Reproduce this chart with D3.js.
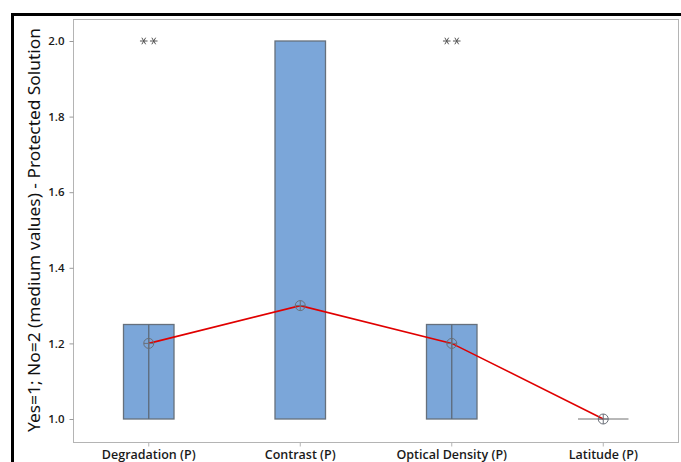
<!DOCTYPE html>
<html>
<head>
<meta charset="utf-8">
<script src="https://cdn.jsdelivr.net/npm/d3@7"></script>
<style>
  html, body { margin: 0; padding: 0; background: #fff; }
  svg { display: block; }
</style>
</head>
<body>
<script>
// Boxplot of yes/no responses per property, with means joined by a line
const categories = ["Degradation (P)", "Contrast (P)", "Optical Density (P)", "Latitude (P)"];
const q1Values = [1.0, 1.0, 1.0, 1.0];
const q3Values = [1.25, 2.0, 1.25, 1.0];
const meanValues = [1.2, 1.3, 1.2, 1.0];
const outlierValues = [[2.0, 2.0], [], [2.0, 2.0], []];
const hasMidLine = [true, false, true, false];
const yTickValues = [1.0, 1.2, 1.4, 1.6, 1.8, 2.0];
const yTitle = "Yes=1; No=2 (medium values) - Protected Solution";

const W = 681, H = 462;
const plot = { left: 73, right: 679, top: 19, bottom: 442 };

const svg = d3.select("body").append("svg")
  .attr("width", W).attr("height", H);

svg.append("rect").attr("width", W).attr("height", H).attr("fill", "#fff");

const x = d3.scaleBand().domain(categories).range([plot.left, plot.right]).padding(0);
const y = d3.scaleLinear().domain([1, 2]).range([419, 41]);

// outer black frame (top and left edges)
svg.append("path")
  .attr("d", `M12.5,${H} L12.5,14.5 L${W},14.5`)
  .attr("fill", "none").attr("stroke", "#000").attr("stroke-width", 3);

// plot area frame
svg.append("rect")
  .attr("x", plot.left + 0.5).attr("y", plot.top + 0.5)
  .attr("width", plot.right - plot.left - 1).attr("height", plot.bottom - plot.top)
  .attr("fill", "none").attr("stroke", "#b4b4b4").attr("stroke-width", 1);

// y axis
const yAxis = d3.axisLeft(y).tickValues(yTickValues).tickFormat(d3.format(".1f")).tickSize(4).tickPadding(5);
const gy = svg.append("g").attr("transform", `translate(${plot.left + 0.5},0)`).call(yAxis);
gy.select(".domain").remove();
gy.selectAll(".tick line").attr("stroke", "#9a9a9a");
gy.selectAll(".tick text")
  .attr("font-family", "'Open Sans', sans-serif")
  .attr("font-size", 11.5).attr("font-weight", 600).attr("fill", "#1a1a1a");

// x axis
const xAxis = d3.axisBottom(x).tickSize(4).tickPadding(4);
const gx = svg.append("g").attr("transform", `translate(0,${plot.bottom + 0.5})`).call(xAxis);
gx.select(".domain").remove();
gx.selectAll(".tick line").attr("stroke", "#b4b4b4");
gx.selectAll(".tick text")
  .attr("font-family", "'Open Sans', sans-serif")
  .attr("font-size", 12.5).attr("font-weight", 600).attr("fill", "#1a1a1a");

// y title
svg.append("text")
  .attr("transform", `translate(40,230) rotate(-90)`)
  .attr("text-anchor", "middle")
  .attr("font-family", "'Noto Sans', sans-serif")
  .attr("font-size", 15.5).attr("fill", "#111")
  .attr("textLength", 404).attr("lengthAdjust", "spacingAndGlyphs")
  .text(yTitle);

const boxW = x.bandwidth() / 3;
const cx = d => x(d) + x.bandwidth() / 2;

const boxes = categories.map((c, i) => ({
  c, q1: q1Values[i], q3: q3Values[i], mean: meanValues[i], out: outlierValues[i], mid: hasMidLine[i]
}));

const g = svg.append("g");

// boxes (collapsed boxes become a single line)
boxes.forEach(b => {
  if (b.q3 > b.q1) {
    g.append("rect")
      .attr("x", cx(b.c) - boxW / 2).attr("y", y(b.q3))
      .attr("width", boxW).attr("height", y(b.q1) - y(b.q3))
      .attr("fill", "#7ba6d9").attr("stroke", "#66707c").attr("stroke-width", 1.3);
    if (b.mid) {
      g.append("line")
        .attr("x1", cx(b.c)).attr("x2", cx(b.c))
        .attr("y1", y(b.q3)).attr("y2", y(b.q1))
        .attr("stroke", "#5d6a78").attr("stroke-width", 1.3);
    }
  } else {
    g.append("line")
      .attr("x1", cx(b.c) - boxW / 2).attr("x2", cx(b.c) + boxW / 2)
      .attr("y1", y(b.q1)).attr("y2", y(b.q1))
      .attr("stroke", "#707070").attr("stroke-width", 1);
  }
});

// outliers drawn as asterisks, tied values offset side by side
const star = d3.symbol().type(d3.symbolAsterisk).size(40);
boxes.forEach(b => {
  b.out.forEach((v, j) => {
    const off = (j - (b.out.length - 1) / 2) * 10;
    g.append("path")
      .attr("d", star())
      .attr("transform", `translate(${cx(b.c) + off},${y(v)}) rotate(90)`)
      .attr("fill", "none").attr("stroke", "#555").attr("stroke-width", 1);
  });
});

// mean connect line
const line = d3.line().x(d => cx(d.c)).y(d => y(d.mean));
g.append("path").datum(boxes).attr("d", line)
  .attr("fill", "none").attr("stroke", "#e00000").attr("stroke-width", 1.6);

// mean symbols: circle with cross
boxes.forEach(b => {
  const px = cx(b.c), py = y(b.mean);
  g.append("circle").attr("cx", px).attr("cy", py).attr("r", 5)
    .attr("fill", "none").attr("stroke", "#6a6f78").attr("stroke-width", 1);
  g.append("line").attr("x1", px).attr("x2", px).attr("y1", py - 5).attr("y2", py + 5)
    .attr("stroke", "#6a6f78").attr("stroke-width", 1);
  g.append("line").attr("x1", px - 5).attr("x2", px + 5).attr("y1", py).attr("y2", py)
    .attr("stroke", "#6a6f78").attr("stroke-width", 1);
});
</script>
</body>
</html>
